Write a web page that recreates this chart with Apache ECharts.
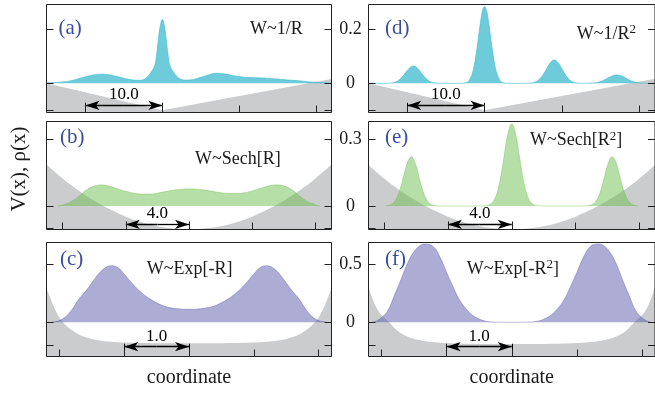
<!DOCTYPE html>
<html><head><meta charset="utf-8">
<script src="https://cdn.jsdelivr.net/npm/echarts@6/dist/echarts.min.js"></script>
<style>html,body{margin:0;padding:0;background:#fff}#c{width:655px;height:394px}</style>
</head><body><div id="c"></div>
<script>
// ---------------- data ----------------
// (a) W~1/R
const aVx = [-15.08, 0, 22.03];
const aV  = [0.0, -0.1, 0.016];
const aRhoX = [-15.08,-14,-13,-12,-11,-10,-9,-8,-7,-6,-5,-4,-3,-2.5,-2,-1.5,-1,-0.75,-0.5,-0.25,0,0.25,0.5,0.75,1,1.5,2,2.5,3,4,5,6,7,8,9,10,11,12,13,14,15,16,17,18,19,20,21,22.03];
const aRho  = [0.002,0.003,0.005,0.009,0.016,0.024,0.031,0.034,0.032,0.026,0.019,0.013,0.011,0.013,0.022,0.04,0.065,0.105,0.165,0.215,0.237,0.215,0.165,0.105,0.065,0.04,0.022,0.014,0.012,0.014,0.022,0.031,0.037,0.035,0.03,0.025,0.022,0.021,0.02,0.018,0.016,0.013,0.011,0.009,0.006,0.004,0.002,0.001];
// (d) W~1/R^2
const dVx = [-15.0, 0, 22.03];
const dV  = [0.0, -0.1, 0.017];
const dRhoX = [-15.0,-13,-12.5,-12,-11.5,-11,-10.5,-10,-9.5,-9.2,-9,-8.5,-8,-7.5,-7,-6.5,-6,-5,-3,-2.5,-2,-1.5,-1,-0.75,-0.5,-0.25,0,0.25,0.5,0.75,1,1.5,2,2.5,3,5,6,6.5,7,7.5,8,8.5,9,9.5,10,10.5,11,11.5,12,13,13.5,14,14.5,15,15.5,16,16.5,17,17.5,18,18.5,19,19.5,20,20.5,21,22.03];
const dRho  = [0,0.0001,0.0003,0.0015,0.005,0.0134,0.0285,0.047,0.0613,0.064,0.0628,0.0506,0.032,0.016,0.0062,0.0019,0.0005,0,0,0.0017,0.0106,0.0447,0.125,0.179,0.231,0.27,0.284,0.27,0.231,0.179,0.125,0.0447,0.0106,0.0017,0,0,0.0011,0.0043,0.0126,0.029,0.053,0.076,0.086,0.076,0.053,0.029,0.0126,0.0043,0.0011,0.0001,0.0003,0.001,0.0028,0.0065,0.0125,0.0202,0.0273,0.031,0.0293,0.0233,0.0155,0.0086,0.004,0.0016,0.0005,0.0001,0];
// (b) W~Sech[R]
const bVx = [-9.02,-8,-7,-6,-5,-4,-3,-2,-1,0,1,2,3,4,5,6,7,8,9.02];
const bV  = [0.187,0.124,0.070,0.024,-0.015,-0.048,-0.073,-0.091,-0.101,-0.105,-0.101,-0.091,-0.073,-0.048,-0.015,0.024,0.070,0.124,0.187];
const bRhoX = [-8.3,-8,-7.5,-7,-6.5,-6,-5.5,-5,-4.5,-4,-3.5,-3,-2.5,-2,-1.5,-1,-0.5,0,0.5,1,1.5,2,2.5,3,3.5,4,4.5,5,5.5,6,6.5,7,7.5,8,8.3];
const bRho  = [0,0.004,0.018,0.042,0.072,0.090,0.095,0.089,0.077,0.066,0.058,0.054,0.054,0.058,0.065,0.071,0.075,0.077,0.076,0.072,0.066,0.06,0.057,0.057,0.06,0.068,0.079,0.09,0.095,0.091,0.074,0.045,0.02,0.006,0];
// (e) W~Sech[R^2]
const eVx = [-8.98,-8,-7,-6,-5,-4,-3,-2,-1,0,1,2,3,4,5,6,7,8,8.98];
const eV  = [0.185,0.124,0.070,0.024,-0.015,-0.048,-0.073,-0.091,-0.101,-0.105,-0.101,-0.091,-0.073,-0.048,-0.015,0.024,0.070,0.124,0.185];
const eRhoX = [-7.9,-7.75,-7.5,-7.25,-7,-6.75,-6.5,-6.3,-6,-5.75,-5.5,-5.25,-5,-4.75,-4.5,-2,-1.75,-1.5,-1.25,-1,-0.75,-0.5,-0.25,0,0.25,0.5,0.75,1,1.25,1.5,1.75,2,4.5,4.75,5,5.25,5.5,5.75,6,6.3,6.5,6.75,7,7.25,7.5,7.75,7.9];
const eRho  = [0.0005,0.0021,0.0093,0.0303,0.075,0.142,0.203,0.222,0.182,0.114,0.054,0.0195,0.0053,0.0011,0.0002,0,0.0005,0.0028,0.0126,0.042,0.109,0.215,0.323,0.37,0.323,0.215,0.109,0.042,0.0126,0.0028,0.0005,0,0.0002,0.0011,0.0053,0.0195,0.054,0.114,0.182,0.222,0.203,0.142,0.075,0.0303,0.0093,0.0021,0.0005];
// (c) W~Exp[-R]
const cVx = [-2.2,-2.15,-2.1,-2.05,-2.0,-1.9,-1.8,-1.7,-1.6,-1.5,-1.4,-1.2,-1.0,-0.5,0,0.5,1.0,1.2,1.4,1.5,1.6,1.7,1.8,1.9,2.0,2.05,2.1,2.15,2.2];
const cV  = [0.293,0.22,0.15,0.09,0.04,-0.025,-0.07,-0.105,-0.127,-0.143,-0.154,-0.168,-0.175,-0.18,-0.181,-0.18,-0.175,-0.168,-0.154,-0.143,-0.127,-0.105,-0.07,-0.025,0.04,0.09,0.15,0.22,0.293];
const cRhoX = [-2.12,-2.1,-2.0,-1.9,-1.8,-1.7,-1.6,-1.5,-1.4,-1.3,-1.2,-1.1,-1.0,-0.9,-0.8,-0.7,-0.6,-0.5,-0.4,-0.3,-0.2,-0.1,0,0.1,0.2,0.3,0.4,0.5,0.6,0.7,0.8,0.9,1.0,1.1,1.2,1.3,1.4,1.5,1.6,1.7,1.8,1.9,2.0,2.1,2.12];
const cRho  = [0,0.003,0.015,0.05,0.115,0.2,0.265,0.34,0.415,0.468,0.488,0.472,0.415,0.35,0.29,0.24,0.2,0.168,0.143,0.127,0.118,0.113,0.112,0.113,0.118,0.127,0.143,0.168,0.2,0.24,0.29,0.35,0.415,0.472,0.488,0.468,0.415,0.34,0.265,0.2,0.115,0.05,0.015,0.003,0];
// (f) W~Exp[-R^2]
const fVx = [-2.2,-2.15,-2.1,-2.05,-2.0,-1.92,-1.85,-1.77,-1.67,-1.57,-1.45,-1.27,-0.92,-0.5,0,0.5,0.92,1.27,1.45,1.57,1.67,1.77,1.85,1.92,2.0,2.05,2.1,2.15,2.2];
const fV  = [0.307,0.22,0.15,0.1,0.06,0.02,-0.02,-0.066,-0.105,-0.13,-0.15,-0.167,-0.181,-0.186,-0.187,-0.186,-0.181,-0.167,-0.15,-0.13,-0.105,-0.066,-0.02,0.02,0.06,0.1,0.15,0.22,0.307];
const fRhoX = [-2.15,-2.1,-2.0,-1.9,-1.8,-1.7,-1.6,-1.5,-1.4,-1.33,-1.2,-1.1,-1.0,-0.9,-0.8,-0.7,-0.6,-0.5,-0.4,-0.3,-0.2,0,0.2,0.3,0.4,0.5,0.6,0.7,0.8,0.9,1.0,1.1,1.2,1.31,1.4,1.5,1.6,1.7,1.8,1.9,2.0,2.1,2.15];
const fRho  = [0,0.006,0.04,0.105,0.235,0.37,0.51,0.61,0.665,0.675,0.65,0.56,0.43,0.305,0.19,0.115,0.06,0.028,0.01,0.003,0.001,0,0.001,0.003,0.01,0.028,0.06,0.115,0.19,0.305,0.43,0.56,0.65,0.675,0.665,0.61,0.51,0.37,0.235,0.105,0.04,0.006,0];

// per-row axis values
const xTicks  = [[-10,0,10,20], [-8,-4,0,4,8], [-2,-1,0,1,2]];
const yTicks  = [[-0.1,0,0.2], [-0.1,0,0.3], [-0.2,0,0.5]];
const yLabels = [[0,0.2], [0,0.3], [0,0.5]];
const yMin = [-0.1081, -0.106, -0.2948];
const yMax = [0.2919, 0.3811, 0.688];
// width arrows: [from, to, label]
const arrows = [[-10, 0, '10.0'], [-4, 0, '4.0'], [-1, 0, '1.0']];
const arrowY = [-0.082, -0.083, -0.21];
const barTop = [-0.072, -0.070, -0.185];
const panelTags = ['(a)','(d)','(b)','(e)','(c)','(f)'];
const laws = ['W~1/R','W~1/R{s|2}','W~Sech[R]','W~Sech[R{s|2}]','W~Exp[-R]','W~Exp[-R{s|2}]'];

// ---------------- styling / layout ----------------
const FONT = "'Liberation Serif', 'DejaVu Serif', serif";
const BLUE = '#3b4da0';
const TXT = '#1a1a1a';
const GRAY = '#cbcccd';
const FILLS = ['rgba(60,185,205,0.75)', 'rgba(110,190,80,0.5)', 'rgba(90,90,170,0.5)'];
const rowLayout = [{top: 4.5, height: 108}, {top: 121.5, height: 108}, {top: 242.5, height: 114}];
const colLayout = [{left: 46.5, width: 285}, {left: 368.5, width: 290}];
const tagPos = [[58.5, 28.6], [385, 28.6], [60, 137.4], [385, 137.4], [60, 259], [385, 259]];
const lawPos = [[250, 29.6], [576.7, 33.9], [195, 158.9], [530, 140.6], [146.7, 268.9], [466.7, 268.9]];

const panels = [
  {row:0, col:0, xmin:-15.08, xmax:22.03, vx:aVx, v:aV, rx:aRhoX, r:aRho, smoothV:false},
  {row:0, col:1, xmin:-15.0,  xmax:22.03, vx:dVx, v:dV, rx:dRhoX, r:dRho, smoothV:false},
  {row:1, col:0, xmin:-9.02,  xmax:9.02,  vx:bVx, v:bV, rx:bRhoX, r:bRho, smoothV:true},
  {row:1, col:1, xmin:-8.98,  xmax:8.98,  vx:eVx, v:eV, rx:eRhoX, r:eRho, smoothV:true},
  {row:2, col:0, xmin:-2.2,   xmax:2.2,   vx:cVx, v:cV, rx:cRhoX, r:cRho, smoothV:true},
  {row:2, col:1, xmin:-2.2,   xmax:2.2,   vx:fVx, v:fV, rx:fRhoX, r:fRho, smoothV:true}
];
function pairs(xs, ys) { return xs.map((x, i) => [x, ys[i]]); }

const option = {animation:false, textStyle:{fontFamily:FONT}, grid:[], xAxis:[], yAxis:[], series:[], graphic:[]};
panels.forEach((p, i) => {
  const R = rowLayout[p.row], C = colLayout[p.col];
  option.grid.push({left:C.left, top:R.top, width:C.width, height:R.height, show:true,
    borderColor:'#222', borderWidth:1, backgroundColor:'transparent', z:5});
  const xa = {gridIndex:i, type:'value', min:p.xmin, max:p.xmax, position:'bottom',
    axisLine:{show:false, onZero:false}, splitLine:{show:false}, axisLabel:{show:false},
    axisTick:{show:true, inside:true, length:7, customValues:xTicks[p.row], lineStyle:{color:'#222', width:1}}, z:6};
  if (p.row === 2) Object.assign(xa, {name:'coordinate', nameLocation:'middle', nameGap:11,
    nameTextStyle:{fontFamily:FONT, fontSize:20, color:TXT}});
  option.xAxis.push(xa);
  const yBase = {gridIndex:i, type:'value', min:yMin[p.row], max:yMax[p.row],
    axisLine:{show:false, onZero:false}, splitLine:{show:false}, z:6,
    axisTick:{show:true, inside:true, length:7, customValues:yTicks[p.row], lineStyle:{color:'#222', width:1}}};
  option.yAxis.push(Object.assign({}, yBase, {position:'left',
    axisLabel:{show:p.col === 1, customValues:yLabels[p.row], margin:18, align:'center',
      fontFamily:FONT, fontSize:18, color:TXT, formatter:v => String(v)}}));
  option.yAxis.push(Object.assign({}, yBase, {position:'right', axisLabel:{show:false}}));
  const ar = arrows[p.row];
  const ay = arrowY[p.row];
  const mid = (ar[0] + ar[1]) / 2;
  option.series.push({type:'line', xAxisIndex:i, yAxisIndex:2*i, data:pairs(p.vx, p.v),
    smooth:p.smoothV ? 0.35 : false, showSymbol:false, symbol:'none', silent:true, z:2,
    lineStyle:{width:0}, areaStyle:{color:GRAY, opacity:1, origin:'start'},
    markLine:{silent:true, animation:false, symbol:['none','arrow'], symbolSize:[7,14], symbolOffset:[-7,0],
      lineStyle:{color:'#000', width:1.3, type:'solid'}, label:{show:false},
      emphasis:{disabled:true},
      data:[
        [{coord:[mid, ay]}, {coord:[ar[0], ay]}],
        [{coord:[mid, ay]}, {coord:[ar[1], ay]}],
        [{coord:[ar[0], ay], symbol:'none', lineStyle:{width:0, color:'rgba(0,0,0,0)'},
          label:{show:true, position:'middle', formatter:ar[2], distance:2,
                 fontFamily:FONT, fontSize:17, color:'#000'}},
         {coord:[ar[1], ay], symbol:'none'}]
      ]}});
  option.series.push({type:'line', xAxisIndex:i, yAxisIndex:2*i, data:pairs(p.rx, p.r),
    smooth:0.4, showSymbol:false, symbol:'none', silent:true, z:3,
    lineStyle:{width:0.8, color:FILLS[p.row]}, areaStyle:{color:FILLS[p.row], opacity:1},
    markLine:{silent:true, animation:false, symbol:['none','none'],
      lineStyle:{color:'#000', width:1, type:'solid'}, label:{show:false},
      emphasis:{disabled:true},
      data:[[{coord:[ar[0], yMin[p.row]]}, {coord:[ar[0], barTop[p.row]]}],
            [{coord:[ar[1], yMin[p.row]]}, {coord:[ar[1], barTop[p.row]]}]]}});
  option.graphic.push({type:'text', x:tagPos[i][0], y:tagPos[i][1], z:20,
    style:{text:panelTags[i], fill:BLUE, fontFamily:FONT, fontSize:21, align:'left', verticalAlign:'middle'}});
  option.graphic.push({type:'text', x:lawPos[i][0], y:lawPos[i][1], z:20,
    style:{text:laws[i], fill:TXT, fontFamily:FONT, fontSize:18, lineHeight:22, align:'left', verticalAlign:'middle',
      rich:{s:{fontFamily:FONT, fontSize:13, lineHeight:13, verticalAlign:'top', fill:TXT}}}});
});
option.graphic.push({type:'text', x:19, y:169, rotation:Math.PI/2, z:20,
  style:{text:'V(x), ρ(x)', fill:TXT, fontFamily:FONT, fontSize:21, align:'center', verticalAlign:'middle'}});

const chart = echarts.init(document.getElementById('c'), null, {renderer:'canvas'});
chart.setOption(option);
</script></body></html>
